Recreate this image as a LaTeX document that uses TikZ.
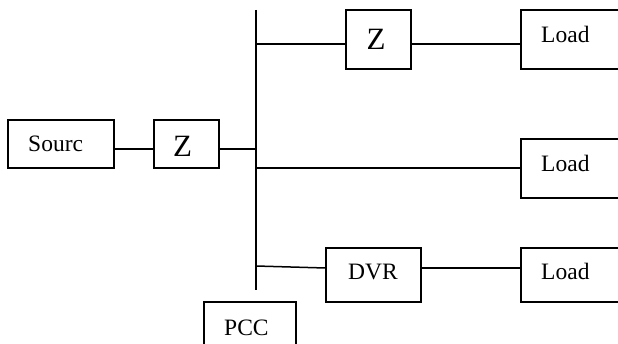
\documentclass[tikz,border=0pt]{standalone}
\usepackage{fontspec}
\setmainfont{Liberation Serif}
\tikzset{
  box/.style={draw, line width=1.5pt, inner sep=0pt, rectangle},
  txt/.style={anchor=base west, inner sep=0pt, font=\fontsize{23.5}{27}\selectfont},
  bigtxt/.style={anchor=base west, inner sep=0pt, font=\fontsize{31}{35}\selectfont},
  wire/.style={line width=1.5pt}
}
\begin{document}
\begin{tikzpicture}[x=1pt,y=-1pt]
\useasboundingbox (0,0) rectangle (618,344);
\clip (0,0) rectangle (618,344);
% boxes
\node[box, minimum width=106pt, minimum height=48pt] (src) at (61,144) {};
\node[box, minimum width=65pt, minimum height=48pt] (z1) at (186.5,144) {};
\node[box, minimum width=65pt, minimum height=59pt] (z2) at (378.5,39.5) {};
\node[box, minimum width=120pt, minimum height=59pt] (ld1) at (581,39.5) {};
\node[box, minimum width=120pt, minimum height=59pt] (ld2) at (581,168.5) {};
\node[box, minimum width=95pt, minimum height=54pt] (dvr) at (373.5,275) {};
\node[box, minimum width=120pt, minimum height=54pt] (ld3) at (581,275) {};
\node[box, minimum width=92pt, minimum height=50pt] (pcc) at (250,327) {};
% texts
\node[txt] (srcT) at (28,152) {Sourc};
\node[bigtxt] (z1T) at (173,157) {Z};
\node[bigtxt] (z2T) at (366.5,50) {Z};
\node[txt] (ld1T) at (541,43) {Load};
\node[txt] (ld2T) at (541,172) {Load};
\node[txt] (ld3T) at (541,280) {Load};
\node[txt] (dvrT) at (348,280) {DVR};
\node[txt] (pccT) at (224,335) {PCC};
% bus
\coordinate (bt) at (256,10);
\coordinate (bb) at (256,290);
\coordinate (j0) at (256,149);
\coordinate (j1) at (256,44);
\coordinate (j2) at (256,168);
\coordinate (j3) at (256,266);
\coordinate (k3) at (256,268);
\draw[wire] (bt) -- (bb);
\draw[wire] (src.east |- j0) -- (z1.west |- j0);
\draw[wire] (z1.east |- j0) -- (j0);
\draw[wire] (j1) -- (z2.west |- j1);
\draw[wire] (z2.east |- j1) -- (ld1.west |- j1);
\draw[wire] (j2) -- (ld2.west |- j2);
\draw[wire] (j3) -- (dvr.west |- k3);
\draw[wire] (dvr.east |- k3) -- (ld3.west |- k3);
\end{tikzpicture}
\end{document}
